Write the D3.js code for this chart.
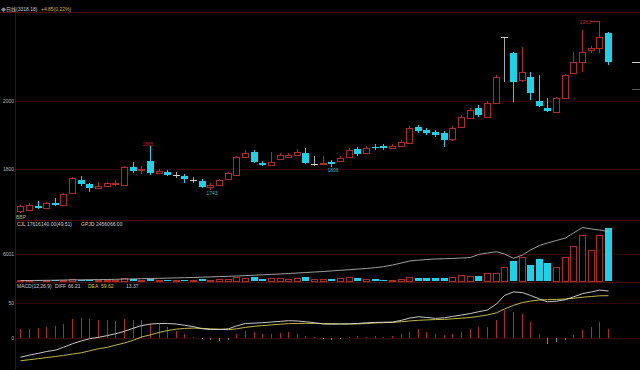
<!DOCTYPE html>
<html>
<head>
<meta charset="utf-8">
<script src="https://cdn.jsdelivr.net/npm/d3@7"></script>
<style>
  html, body { margin: 0; padding: 0; background: #000; overflow: hidden; }
  svg { display: block; }
  text { font-family: "Liberation Sans", "Noto Sans CJK SC", sans-serif; }
</style>
</head>
<body>
<div id="chart"></div>
<script>
// daily candles
const opens  = [1686,1689,1699,1694,1708,1702,1734,1770,1759,1748,1753,1760,1756,1806,1796,1822,1790,1792,1783,1781,
                1770,1767,1750,1756,1772,1783,1833,1848,1816,1811,1828,1833,1839,1845,1814,1815,1819,1822,1833,1857,
                1845,1863,1864,1859,1865,1874,1921,1912,1906,1903,1886,1921,1948,1979,1951,1994,2208,2154,2066,2076,
                2000,1979,1966,2010,2088,2125,2164,2171,2222];
const highs  = [1702,1708,1713,1710,1721,1734,1778,1780,1762,1764,1764,1770,1808,1819,1808,1865,1800,1797,1792,1786,
                1778,1772,1762,1772,1792,1836,1854,1854,1822,1848,1845,1845,1857,1859,1836,1836,1825,1836,1859,1862,
                1864,1871,1871,1871,1883,1924,1927,1918,1912,1909,1924,1957,1979,1988,2000,2082,2208,2158,2174,2092,
                2082,2010,2013,2085,2158,2233,2178,2263,2225];
const lows   = [1681,1686,1691,1691,1699,1699,1732,1753,1737,1745,1750,1753,1753,1789,1786,1783,1786,1781,1775,1762,
                1762,1748,1743,1753,1770,1781,1830,1816,1807,1808,1825,1830,1836,1814,1808,1811,1806,1819,1830,1836,
                1842,1854,1854,1857,1862,1871,1903,1897,1891,1862,1880,1918,1945,1951,1948,1991,2060,1997,2060,2003,
                1982,1966,1963,2006,2085,2092,2154,2154,2115];
const closes = [1699,1702,1694,1708,1702,1732,1775,1759,1748,1753,1762,1762,1806,1794,1800,1789,1794,1783,1783,1772,
                1770,1750,1756,1770,1789,1833,1845,1819,1811,1819,1839,1839,1848,1816,1814,1816,1815,1830,1854,1842,
                1859,1859,1858,1865,1877,1918,1909,1903,1897,1883,1918,1951,1972,1957,1994,2076,2208,2060,2092,2025,
                1985,1969,2010,2082,2125,2158,2171,2208,2125];

// volume (CJL) bars and its line
const volumes = [150,200,100,150,100,250,400,300,250,200,200,150,600,400,250,500,300,300,200,300,
                 250,350,300,400,500,900,700,800,500,600,600,500,600,800,500,500,500,600,800,600,
                 500,400,222,300,450,889,667,667,667,667,889,1334,1111,1111,1778,1778,3112,4445,5334,3556,
                 4890,4001,3112,5334,7779,10224,6890,10224,11780];
const volLine = [111,111,133,156,178,222,244,267,289,311,333,378,422,467,511,556,600,645,689,733,
                 778,845,911,978,1045,1111,1200,1289,1378,1467,1556,1667,1778,1889,2000,2111,2245,2378,2512,2645,
                 2778,2978,3178,3556,4001,4445,4623,4779,4890,4956,5001,5112,5223,5890,6223,6512,6001,5045,5779,6890,
                 7890,8446,9002,9557,10668,11891,11558,11335,11002];

// MACD(12,26,9)
const dif  = [-27,-24,-21.5,-19,-17,-13,-8,-4,-1,1,3.5,6,9.5,14,17.5,19.7,20.5,20.5,19.7,18,
              16,13,12,12,13,17,20.5,21,21.6,22.5,23.5,24.4,24,23,21.5,19.7,19.5,19.7,20,20.5,
              21.5,22,22.3,22.5,25,28,30,29,27.7,28.5,30.5,32.4,34.5,37,39.5,48,60,65,64,60,
              55,51,52,54,58,62.5,65,67.5,66.21];
const dea  = [-32,-30.5,-29,-27.5,-26,-24.5,-22.5,-20.7,-18,-15,-13,-10,-7,-3,1.5,4.5,8,10.5,12.5,13.6,
              14,13.6,13,12.5,11.8,13,15,16.5,17.5,18.5,19.5,20.2,20.5,20.7,20.7,20.5,20.3,20,19.8,19.9,
              20.5,21.2,21.6,22,23,24,25,25.5,26,26.3,27,28,29,30.5,32.5,35.5,41,46,50,52,
              53.5,54,54.5,55,56,57.5,58.5,59.5,59.62];
const macd = [13.1,13.1,14.6,15.5,16.4,19.2,26.3,28.6,26.3,24.9,24.9,23.9,26.3,24.9,24.9,20.2,20.2,15.5,9.9,5.2,
              2,-2,-3,-4,-3,5,10,9,6,5,7,8,6,3,1,-2,-3,-1,2,3,
              2,3,2,3,5,8.5,12.2,8.5,5.2,3.8,5.2,8.5,13.1,15.5,15.5,24.9,39,36.6,34.3,22.5,
              6.1,-8,-6,-3,3.8,10.8,15.5,22.5,13.37];

// axis ticks and labels
const priceTicks = [1800, 2000];
const volTicks = [6001];
const macdTicks = [0, 50];
const highMarks = [15, 67];
const lowMarks = [22, 36];
const rightMarks = [2125, 2037];
const headerMain = "日线(3318.18)";
const headerChg = "+4.85(0.22%)";
const volTotal = "17616140.00(49.51)";
const volAvg = "2456066.00";

const W = 640, H = 370;
const RED = "#b42a22", CYAN = "#1cd2e8", FLAT = "#cfcfcf";
const LINE = "#4c0e0c", GRID = "#2c0707";
const N = closes.length;

const svg = d3.select("#chart").append("svg")
  .attr("width", W)
  .attr("height", H)
  .style("background", "#000");

const x = d3.scaleBand().domain(d3.range(N)).range([15.7, 612.5]).paddingInner(0.25).paddingOuter(0.15);
const cx = i => Math.round(x(i) + x.bandwidth() / 2);

const yP = d3.scaleLog().domain([1663, 2296]).range([220, 12]);
const yV = d3.scaleLinear().domain([0, 13336]).range([281, 221]);
const yM = d3.scaleLinear().domain([-45, 77.5]).range([370, 283]);

const px = v => Math.round(v) + 0.5;

// grid + axis labels
function leftAxis(scale, ticks, fmt) {
  svg.append("g").attr("shape-rendering", "crispEdges")
    .selectAll("line").data(ticks).join("line")
    .attr("x1", 15).attr("x2", W)
    .attr("y1", d => px(scale(d))).attr("y2", d => px(scale(d)))
    .attr("stroke", GRID).attr("stroke-width", 1);
  const g = svg.append("g").attr("transform", "translate(15,0)")
    .call(d3.axisLeft(scale).tickValues(ticks).tickSize(0).tickPadding(1).tickFormat(fmt));
  g.select(".domain").remove();
  g.selectAll("text").attr("fill", "#b8b8b8").style("font-size", "5px")
    .attr("font-family", "Liberation Sans");
}
leftAxis(yP, priceTicks, d3.format("d"));
leftAxis(yV, volTicks, d3.format("d"));
leftAxis(yM, macdTicks, d3.format("d"));

// frame
const frame = svg.append("g").attr("shape-rendering", "crispEdges").attr("stroke", LINE);
frame.append("line").attr("x1", 0).attr("x2", W).attr("y1", 12.5).attr("y2", 12.5);
frame.append("line").attr("x1", 15.5).attr("x2", 15.5).attr("y1", 12).attr("y2", H);
[220.5, 282.5].forEach(y => {
  frame.append("line").attr("x1", 15).attr("x2", W).attr("y1", y).attr("y2", y);
});

// candles
const cg = svg.append("g").attr("shape-rendering", "crispEdges");
d3.range(N).forEach(i => {
  const o = opens[i], c = closes[i], c0 = cx(i);
  const col = c > o ? RED : c < o ? CYAN : FLAT;
  const yTop = Math.round(yP(Math.max(o, c))), yBot = Math.round(yP(Math.min(o, c)));
  if (c > o) {
    cg.append("line").attr("x1", c0 + 0.5).attr("x2", c0 + 0.5).attr("y1", yP(highs[i])).attr("y2", yTop).attr("stroke", col);
    cg.append("line").attr("x1", c0 + 0.5).attr("x2", c0 + 0.5).attr("y1", yBot).attr("y2", yP(lows[i])).attr("stroke", col);
    cg.append("rect").attr("x", c0 - 2.5).attr("y", yTop + 0.5)
      .attr("width", 6).attr("height", Math.max(yBot - yTop, 1))
      .attr("fill", "#000").attr("stroke", col);
  } else {
    cg.append("line").attr("x1", c0 + 0.5).attr("x2", c0 + 0.5).attr("y1", yP(highs[i])).attr("y2", yP(lows[i]))
      .attr("stroke", c < o ? col : "#a8a8a8");
    if (c < o) {
      cg.append("rect").attr("x", c0 - 3).attr("y", yTop)
        .attr("width", 7).attr("height", Math.max(yBot - yTop, 1)).attr("fill", col);
    } else {
      cg.append("line").attr("x1", c0 - 3).attr("x2", c0 + 4).attr("y1", yTop + 0.5).attr("y2", yTop + 0.5).attr("stroke", col);
    }
  }
});

// high / low labels
highMarks.forEach(i => {
  const yy = yP(highs[i]);
  if (i > N - 8) {
    svg.append("line").attr("x1", cx(i) - 8).attr("x2", cx(i) + 0.5)
      .attr("y1", px(yy)).attr("y2", px(yy)).attr("stroke", RED).attr("shape-rendering", "crispEdges");
    svg.append("text").attr("x", cx(i) - 8).attr("y", yy + 2.5).attr("text-anchor", "end")
      .attr("fill", RED).style("font-size", "5px").text(highs[i]);
  } else {
    svg.append("text").attr("x", cx(i) - 2).attr("y", yy - 0.5).attr("text-anchor", "middle")
      .attr("fill", RED).style("font-size", "5px").text(highs[i]);
  }
});
lowMarks.forEach(i => {
  svg.append("text").attr("x", cx(i) + 2).attr("y", yP(lows[i]) + 5).attr("text-anchor", "middle")
    .attr("fill", "#38b8c8").style("font-size", "5px").text(lows[i]);
});

// right edge price marks
svg.append("g").attr("shape-rendering", "crispEdges")
  .selectAll("line").data(rightMarks).join("line")
  .attr("x1", 632).attr("x2", W)
  .attr("y1", d => px(yP(d))).attr("y2", d => px(yP(d)))
  .attr("stroke", (d, k) => k === 0 ? "#c8c8c8" : "#5a5a5a");

// volume bars
const vg = svg.append("g").attr("shape-rendering", "crispEdges");
d3.range(N).forEach(i => {
  const c0 = cx(i), up = closes[i] >= opens[i];
  const yt = Math.round(yV(volumes[i])), yb = Math.round(yV(0));
  if (up) {
    vg.append("rect").attr("x", c0 - 2.5).attr("y", Math.min(yt, yb - 1) + 0.5)
      .attr("width", 6).attr("height", Math.max(yb - yt, 1))
      .attr("fill", "#000").attr("stroke", RED);
  } else {
    vg.append("rect").attr("x", c0 - 3).attr("y", Math.min(yt, yb - 1))
      .attr("width", 7).attr("height", Math.max(yb - yt, 1)).attr("fill", CYAN);
  }
});
svg.append("path").datum(volLine)
  .attr("fill", "none").attr("stroke", "#b0b0b0").attr("stroke-width", 0.9)
  .attr("d", d3.line().x((d, i) => cx(i) + 0.5).y(d => yV(d)));

// MACD sticks and lines
svg.append("g").attr("shape-rendering", "crispEdges")
  .selectAll("line").data(macd).join("line")
  .attr("x1", (d, i) => cx(i) + 0.5).attr("x2", (d, i) => cx(i) + 0.5)
  .attr("y1", yM(0)).attr("y2", d => yM(d))
  .attr("stroke", d => d >= 0 ? RED : "#3a9aa8");
svg.append("path").datum(dea)
  .attr("fill", "none").attr("stroke", "#d8c848").attr("stroke-width", 0.9)
  .attr("d", d3.line().x((d, i) => cx(i) + 0.5).y(d => yM(d)));
svg.append("path").datum(dif)
  .attr("fill", "none").attr("stroke", "#dcdcdc").attr("stroke-width", 0.9)
  .attr("d", d3.line().x((d, i) => cx(i) + 0.5).y(d => yM(d)));

// legends
const small = (t, xx, yy, col) => svg.append("text").attr("x", xx).attr("y", yy)
  .attr("fill", col).style("font-size", "5px").attr("xml:space", "preserve").text(t);

small("◆", 1, 10.5, "#8a8a8a");
small(headerMain, 6, 10.5, "#c8c8c8");
small(headerChg, 41, 10.5, "#d4b440");

small("BBP", 16, 218.5, "#9cbc94");
small("CJL", 17, 226, "#cfcfcf");
small(volTotal, 27, 226, "#cfcfcf");
small("GPJD", 81, 226, "#cfcfcf");
small(volAvg, 96, 226, "#cfcfcf");

small("MACD(12,26,9)", 17, 287.5, "#cfcfcf");
small("DIFF", 55, 287.5, "#cfcfcf");
small(dif[N - 1].toFixed(2), 68, 287.5, "#cfcfcf");
small("DEA", 88, 287.5, "#d8c848");
small(dea[N - 1].toFixed(2), 101, 287.5, "#d8c848");
small(macd[N - 1].toFixed(2), 126, 287.5, "#cfcfcf");
</script>
</body>
</html>
